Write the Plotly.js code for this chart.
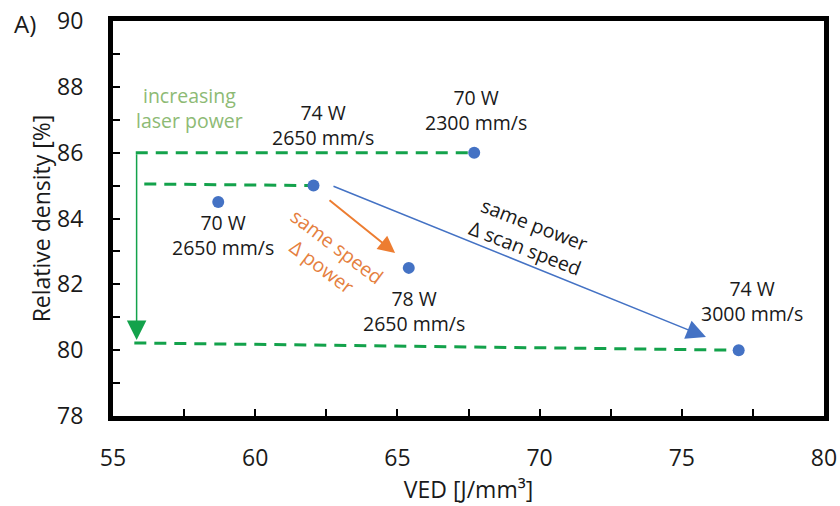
<!DOCTYPE html>
<html>
<head>
<meta charset="utf-8">
<script src="https://cdn.plot.ly/plotly-3.0.1.min.js"></script>
<style>
  html, body { margin: 0; padding: 0; background: #ffffff; }
  #chart { width: 840px; height: 506px; }
</style>
</head>
<body>
<div id="chart"></div>
<script>
// ---- data ----
const vedValues = [58.7, 62.05, 67.7, 65.4, 77.0];
const densityValues = [84.5, 85.0, 86.0, 82.5, 80.0];
const powerLabels = ["70 W", "74 W", "70 W", "78 W", "74 W"];
const speedLabels = ["2650 mm/s", "2650 mm/s", "2300 mm/s", "2650 mm/s", "3000 mm/s"];

// green dashed guide lines (VED, density)
const guideTopX = [55.8, 67.7];
const guideTopY = [86.0, 86.0];
const guideMidX = [56.1, 62.05];
const guideMidY = [85.05, 85.0];
const guideLowX = [55.75, 77.0];
const guideLowY = [80.22, 80.0];

const xTickVals = [55, 60, 65, 70, 75, 80];
const yTickVals = [78, 80, 82, 84, 86, 88, 90];

const FONT = "'Open Sans', 'Noto Sans', sans-serif";
const dashStyle = {color: "#13A24B", width: 3, dash: "12px,8px"};

const traces = [
  {x: guideTopX, y: guideTopY, mode: "lines", line: dashStyle, hoverinfo: "skip", showlegend: false},
  {x: guideMidX, y: guideMidY, mode: "lines", line: dashStyle, hoverinfo: "skip", showlegend: false},
  {x: guideLowX, y: guideLowY, mode: "lines", line: dashStyle, hoverinfo: "skip", showlegend: false},
  {x: vedValues, y: densityValues, mode: "markers",
   marker: {color: "#4472C4", size: 12}, showlegend: false}
];

function pointLabel(i, x, y) {
  return {x: x, y: y, xref: "x", yref: "y", showarrow: false,
    text: powerLabels[i] + "<br>" + speedLabels[i],
    font: {family: FONT, size: 19.5, color: "#1a1a1a"}, align: "center"};
}

const annotations = [
  pointLabel(0, 58.87, 83.5),
  pointLabel(1, 62.38, 86.84),
  pointLabel(2, 67.75, 87.3),
  pointLabel(3, 65.6, 81.19),
  pointLabel(4, 77.47, 81.5),
  {x: 57.7, y: 87.36, xref: "x", yref: "y", showarrow: false,
   text: "increasing<br>laser power", align: "center",
   font: {family: FONT, size: 19.5, color: "#8DBA74"}},
  {x: 62.6, y: 82.85, xref: "x", yref: "y", showarrow: false,
   text: "same speed<br>Δ power", align: "center", textangle: 37,
   font: {family: FONT, size: 19.5, color: "#E5803F"}},
  {x: 69.66, y: 83.47, xref: "x", yref: "y", showarrow: false,
   text: "same power<br>Δ scan speed", align: "center", textangle: 21,
   font: {family: FONT, size: 19.5, color: "#1a1a1a"}},
  // arrows
  {x: 64.92, y: 82.95, ax: 62.56, ay: 84.59, xref: "x", yref: "y", axref: "x", ayref: "y",
   showarrow: true, arrowhead: 2, arrowsize: 1.7, arrowwidth: 2, arrowcolor: "#ED7D31", text: ""},
  {x: 75.85, y: 80.4, ax: 62.7, ay: 85.0, xref: "x", yref: "y", axref: "x", ayref: "y",
   showarrow: true, arrowhead: 2, arrowsize: 2.6, arrowwidth: 1.5, arrowcolor: "#4472C4", text: ""},
  {x: 55.83, y: 80.31, ax: 55.83, ay: 86.0, xref: "x", yref: "y", axref: "x", ayref: "y",
   showarrow: true, arrowhead: 2, arrowsize: 2.6, arrowwidth: 1.5, arrowcolor: "#13A24B", text: ""},
  // panel label
  {x: (25 - 113) / (824 - 113), y: 1 + (21 - 23) / (416 - 21), xref: "paper", yref: "paper",
   xanchor: "center", yanchor: "middle", showarrow: false, text: "A)",
   font: {family: FONT, size: 24, color: "#1a1a1a"}}
];

const layout = {
  width: 840, height: 506,
  margin: {l: 113, r: 16, t: 21, b: 90},
  paper_bgcolor: "#ffffff", plot_bgcolor: "#ffffff",
  font: {family: FONT, size: 23, color: "#1a1a1a"},
  xaxis: {
    range: [55, 80], tickvals: xTickVals, ticktext: xTickVals.map(String),
    ticks: "inside", ticklen: 7, tickwidth: 2, tickcolor: "#000",
    minor: {dtick: 2.5, tick0: 55, ticks: "inside", ticklen: 7, tickwidth: 2, tickcolor: "#000"},
    showgrid: false, zeroline: false,
    showline: true, linecolor: "#000", linewidth: 5, mirror: true,
    ticklabelstandoff: 17,
    tickfont: {family: FONT, size: 23, color: "#1a1a1a"},
    title: {text: "VED [J/mm³]", font: {family: FONT, size: 23, color: "#1a1a1a"}, standoff: 7}
  },
  yaxis: {
    range: [78, 90], tickvals: yTickVals, ticktext: yTickVals.map(String),
    ticks: "inside", ticklen: 7, tickwidth: 2, tickcolor: "#000",
    minor: {dtick: 1, tick0: 78, ticks: "inside", ticklen: 7, tickwidth: 2, tickcolor: "#000"},
    showgrid: false, zeroline: false,
    showline: true, linecolor: "#000", linewidth: 5, mirror: true,
    ticklabelstandoff: 20,
    tickfont: {family: FONT, size: 23, color: "#1a1a1a"},
    title: {text: "Relative density [%]", font: {family: FONT, size: 23, color: "#1a1a1a"}, standoff: 1}
  },
  annotations: annotations,
  showlegend: false
};

Plotly.newPlot("chart", traces, layout, {displayModeBar: false, staticPlot: true});
</script>
</body>
</html>
